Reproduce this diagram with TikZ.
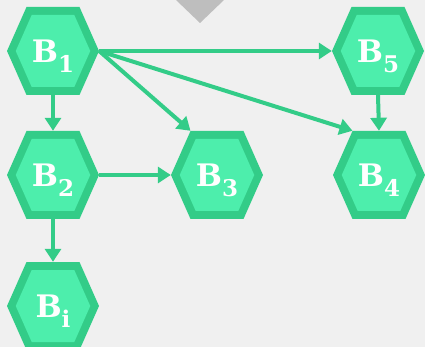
\documentclass[tikz,border=0pt]{standalone}
\usepackage{fontspec}
\setmainfont{DejaVu Serif}
\usetikzlibrary{arrows.meta,calc}
\definecolor{bgc}{HTML}{F0F0F0}
\definecolor{hexfill}{HTML}{4DEEAC}
\definecolor{hexline}{HTML}{33CC88}
\definecolor{tric}{HTML}{BEBEBE}
\newcommand{\hexlab}[1]{B\raisebox{-10pt}{\fontsize{23}{23}\selectfont #1}}
\newcommand{\hexat}[4]{%
  \begin{scope}[shift={(#2,#3)}]
    \fill[hexline] (-46,0)--(-26.5,-44)--(26.5,-44)--(46,0)--(26.5,44)--(-26.5,44)--cycle;
    \fill[hexfill] (-37.25,0)--(-21.3,-36)--(21.3,-36)--(37.25,0)--(21.3,36)--(-21.3,36)--cycle;
  \end{scope}
  \node[hexnode] (#1) at (#2,#3) {\hexlab{#4}};}
\begin{document}
\begin{tikzpicture}[x=1pt,y=-1pt,
  hexnode/.style={minimum width=92pt,minimum height=88pt,inner sep=0pt,
    text=white,font=\fontsize{31}{31}\selectfont\bfseries,
    text height=23pt,text depth=0pt},
  conn/.style={draw=hexline,line width=4pt,-{Triangle[width=16pt,length=13pt]}}
]
\useasboundingbox (0,0) rectangle (425,347);
\fill[bgc] (0,0) rectangle (425,347);
\fill[tric] (176,0)--(224,0)--(200,23)--cycle;

\hexat{B1}{53}{51}{1}
\hexat{B2}{53}{175}{2}
\hexat{Bi}{53}{306}{i}
\hexat{B3}{217}{175}{3}
\hexat{B5}{378}{51}{5}
\hexat{B4}{379}{175}{4}

\draw[conn] (B1.south) -- (B2.north);
\draw[conn] (B1.east) -- ($(B3.north)+(-26.5,0)$);
\draw[conn] (B1.east) -- (B5.west);
\draw[conn] (B1.east) -- ($(B4.north)+(-26.5,0)$);
\draw[conn] (B5.south) -- (B4.north);
\draw[conn] (B2.east) -- (B3.west);
\draw[conn] (B2.south) -- (Bi.north);
\end{tikzpicture}
\end{document}
